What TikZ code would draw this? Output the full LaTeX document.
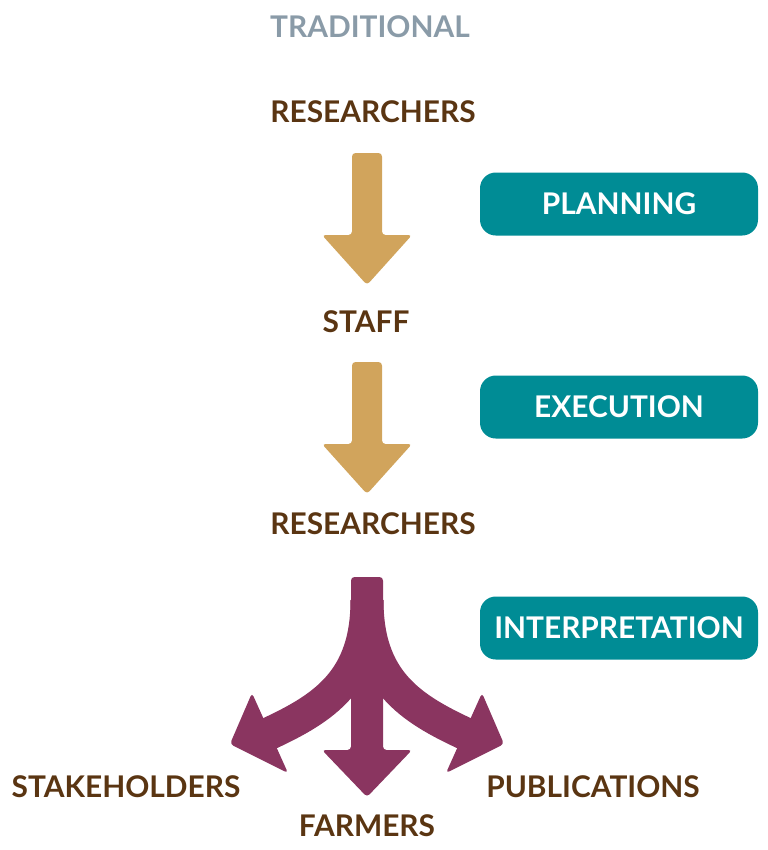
\documentclass[tikz,border=0pt]{standalone}
\usepackage{fontspec}
\setmainfont{Lato}
\definecolor{brownish}{HTML}{5A3512}
\definecolor{goldish}{HTML}{D1A45C}
\definecolor{plum}{HTML}{8A3560}
\definecolor{tealbox}{HTML}{008C95}
\definecolor{greyish}{HTML}{8A9BA8}
\tikzstyle{word} = [font=\fontsize{17}{20}\selectfont\bfseries, text=brownish, inner sep=0pt]
\tikzstyle{stage} = [fill=tealbox, rounded corners=9pt, minimum width=278*0.02cm,
  minimum height=63*0.02cm, font=\fontsize{17}{20}\selectfont\bfseries, text=white]
\begin{document}
\begin{tikzpicture}[x=0.02cm, y=-0.02cm]
\useasboundingbox (0,0) rectangle (768,850);
% labels
\node[word, text=greyish] (title) at (370,27) {TRADITIONAL};
\node[word] (res1) at (373,112) {RESEARCHERS};
\node[word] (staff) at (366,322) {STAFF};
\node[word] (res2) at (373,524) {RESEARCHERS};
\node[word] (stake) at (126,787) {STAKEHOLDERS};
\node[word] (farm) at (367,826) {FARMERS};
\node[word] (pub) at (593,787) {PUBLICATIONS};
% stages
\node[stage] (plan) at (619,204) {PLANNING};
\node[stage] (exec) at (619,407) {EXECUTION};
\node[stage] (interp) at (619,628) {INTERPRETATION};
% gold arrows
\foreach \t in {153,362}
  \fill[goldish, rounded corners=2pt] (352,\t) -- (382,\t) -- (382,\t+82) -- (412,\t+82)
    -- (367,\t+132) -- (322,\t+82) -- (352,\t+82) -- cycle;
% purple split arrow
\fill[plum, rounded corners=2pt] (351,577) -- (383,577) -- (383,750) -- (412,750)
  -- (367,797) -- (322,750) -- (351,750) -- cycle;
\draw[plum, line width=0.66cm] (367,600) .. controls (367,680) and (325,708) .. (266,735);
\draw[plum, line width=0.66cm] (367,600) .. controls (367,680) and (409,708) .. (468,735);
\fill[plum, rounded corners=2pt] (252,693) -- (288,773) -- (230,744) -- cycle;
\fill[plum, rounded corners=2pt] (482,693) -- (446,773) -- (504,744) -- cycle;
\end{tikzpicture}
\end{document}
